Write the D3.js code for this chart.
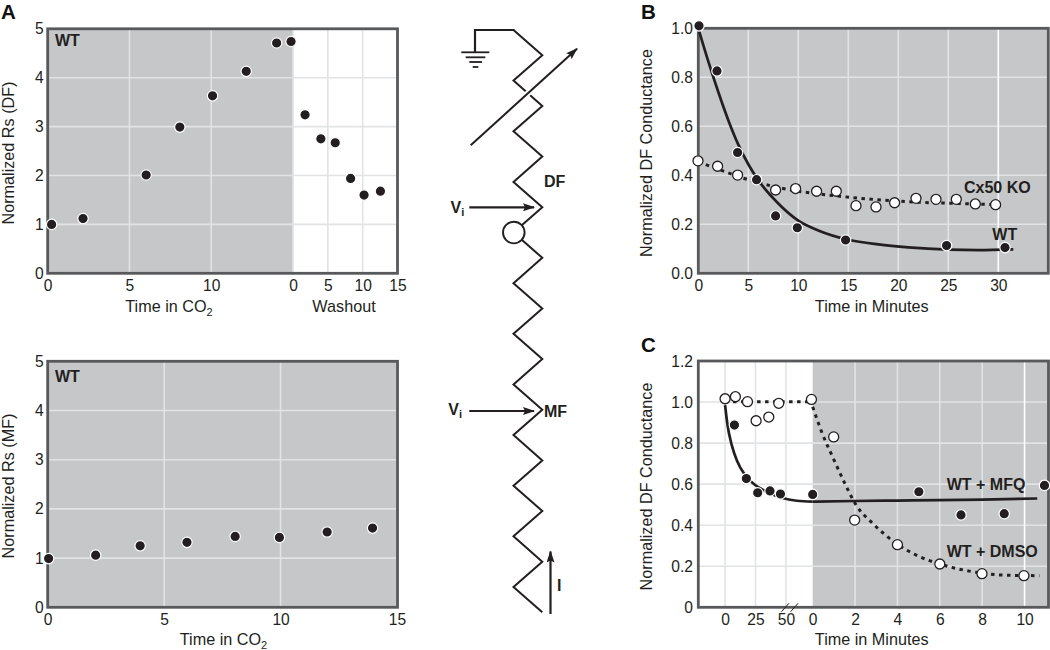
<!DOCTYPE html>
<meta charset="utf-8">
<script src="https://d3js.org/d3.v7.min.js"></script>

<style>

body {
    margin: 0;
    background: #fff;
}

svg {
    display: block;
    font-family: "Liberation Sans", Arial, sans-serif;
}

.tick text {
    font-family: "Liberation Sans", Arial, sans-serif;
    font-size: 15.6px;
    fill: #231f20;
}

.title {
    font-size: 16.2px;
    fill: #231f20;
}

.note {
    font-size: 16px;
    font-weight: bold;
    fill: #231f20;
}

.letter {
    font-size: 20.5px;
    font-weight: bold;
    fill: #111;
}

</style>
<body>
<script>

// panel A, top: time in CO2, then washout
var dfCo2T = [0.24, 2.16, 6.02, 8.08, 10.08, 12.14, 14.0, 14.88];
var dfCo2V = [1.0, 1.12, 2.01, 2.99, 3.63, 4.13, 4.71, 4.74];
var dfWashT = [1.73, 4.0, 6.06, 8.27, 10.2, 12.55];
var dfWashV = [3.24, 2.75, 2.67, 1.94, 1.6, 1.68];

// panel A, bottom
var mfT = [0.04, 2.06, 3.97, 5.98, 8.05, 9.95, 12, 13.95];
var mfV = [0.99, 1.06, 1.25, 1.32, 1.44, 1.42, 1.53, 1.61];

// panel B
var bWtT = [0.07, 1.87, 3.93, 5.83, 7.73, 9.9, 14.73, 24.83, 30.67];
var bWtV = [1.01, 0.826, 0.493, 0.382, 0.234, 0.186, 0.136, 0.113, 0.105];
var bWtFitT = [0, 1, 2, 3, 4, 5, 6, 8, 10, 12, 15, 18, 21, 25, 28, 31.5];
var bWtFitV = [1.0, 0.865, 0.74, 0.625, 0.525, 0.445, 0.38, 0.285, 0.215, 0.175, 0.137, 0.118, 0.106, 0.097, 0.095, 0.098];
var bKoT = [-0.03, 1.93, 3.93, 7.73, 9.73, 11.83, 13.8, 15.77, 17.77, 19.63, 21.77, 23.77, 25.8, 27.7, 29.73];
var bKoV = [0.459, 0.437, 0.401, 0.34, 0.346, 0.335, 0.335, 0.276, 0.271, 0.288, 0.306, 0.302, 0.302, 0.283, 0.28];
var bKoFitT = [0, 2, 4, 6, 8, 10, 14, 18, 22, 26, 30];
var bKoFitV = [0.455, 0.425, 0.395, 0.37, 0.35, 0.335, 0.315, 0.3, 0.29, 0.285, 0.28];

// panel C, before the break (left) and after it (right)
var cDmsoLeftT = [0, 8.5, 18.4, 25.5, 35.9, 44.1];
var cDmsoLeftV = [1.016, 1.026, 1.002, 0.909, 0.927, 0.994];
var cDmsoRightT = [-0.06, 0.99, 1.98, 4.0, 6.0, 7.99, 9.97];
var cDmsoRightV = [1.013, 0.83, 0.425, 0.305, 0.211, 0.164, 0.154];
var cMfqLeftT = [7.7, 17.5, 26.8, 36.9, 45.5];
var cMfqLeftV = [0.888, 0.627, 0.558, 0.567, 0.552];
var cMfqRightT = [0, 5.01, 7.0, 9.04, 10.94];
var cMfqRightV = [0.55, 0.563, 0.45, 0.456, 0.594];
var cMfqFitLeftT = [0, 2, 5.5, 9.6, 16.4, 24.7, 34.3, 48, 59, 72];
var cMfqFitLeftV = [0.985, 0.888, 0.79, 0.717, 0.645, 0.596, 0.563, 0.531, 0.519, 0.515];
var cMfqFitRightT = [2, 4, 6, 8, 10.6];
var cMfqFitRightV = [0.518, 0.52, 0.522, 0.525, 0.53];
var cDmsoFlatLeftT = [0, 72];
var cDmsoFlatLeftV = [1.002, 1.002];
var cDmsoFitT = [0, 0.42, 0.97, 1.44, 2.05, 2.83, 3.93, 4.87, 6, 7.1, 8.03, 8.97, 10.7];
var cDmsoFitV = [0.977, 0.855, 0.726, 0.62, 0.498, 0.409, 0.312, 0.255, 0.211, 0.182, 0.166, 0.157, 0.154];

// tick labels
var aYTicks = [0, 1, 2, 3, 4, 5];
var co2Ticks = [0, 5, 10];
var washTicks = [0, 5, 10, 15];
var mfTicks = [0, 5, 10, 15];
var bYTicks = [0, 0.2, 0.4, 0.6, 0.8, 1.0];
var bXTicks = [0, 5, 10, 15, 20, 25, 30];
var cYTicks = [0, 0.2, 0.4, 0.6, 0.8, 1.0, 1.2];
var cLeftTicks = [0, 25, 50];
var cRightTicks = [0, 2, 4, 6, 8, 10];

var GRAY = "#c6c7c9", FRAME = "#58595b", GRID = "#e2e3e4", INK = "#231f20";

var svg = d3.select("body").append("svg")
    .attr("width", 1050)
    .attr("height", 650);

var defs = svg.append("defs");
defs.append("marker")
    .attr("id", "head")
    .attr("markerUnits", "userSpaceOnUse")
    .attr("viewBox", "0 0 12 8")
    .attr("refX", 11)
    .attr("refY", 4)
    .attr("markerWidth", 12)
    .attr("markerHeight", 8)
    .attr("orient", "auto")
    .append("path")
    .attr("d", "M0,0L12,4L0,8L2,4Z")
    .attr("fill", INK);

// --- shared bits ---

function grid(g, xs, xTicks, y, yTicks, x0, x1) {
    yTicks.forEach(function(t) {
        g.append("line")
            .attr("x1", x0).attr("x2", x1)
            .attr("y1", y(t)).attr("y2", y(t))
            .attr("stroke", GRID).attr("stroke-width", 1.6);
    });
    xTicks.forEach(function(t) {
        g.append("line")
            .attr("x1", xs(t)).attr("x2", xs(t))
            .attr("y1", y.range()[1]).attr("y2", y.range()[0])
            .attr("stroke", GRID).attr("stroke-width", 1.6);
    });
}

function frame(g, x0, x1, y) {
    g.append("rect")
        .attr("x", x0).attr("y", y.range()[1])
        .attr("width", x1 - x0).attr("height", y.range()[0] - y.range()[1])
        .attr("fill", "none")
        .attr("stroke", FRAME)
        .attr("stroke-width", 2.8);
}

function bottomAxis(g, x, ticks, yPos) {
    var a = g.append("g")
        .attr("transform", "translate(0," + yPos + ")")
        .call(d3.axisBottom(x).tickValues(ticks).tickSize(0).tickPadding(7).tickFormat(d3.format("d")));
    a.select(".domain").remove();
}

function leftAxis(g, y, ticks, xPos, fmt) {
    var a = g.append("g")
        .attr("transform", "translate(" + xPos + ",0)")
        .call(d3.axisLeft(y).tickValues(ticks).tickSize(0).tickPadding(4).tickFormat(fmt));
    a.select(".domain").remove();
}

function xTitle(text, x, y, sub) {
    var t = svg.append("text")
        .attr("class", "title")
        .attr("x", x).attr("y", y)
        .attr("text-anchor", "middle")
        .text(text);
    if (sub) {
        t.append("tspan").attr("dy", 4).style("font-size", "11px").text(sub);
    }
}

function yTitle(text, x, y) {
    svg.append("text")
        .attr("class", "title")
        .attr("transform", "translate(" + x + "," + y + ") rotate(-90)")
        .attr("text-anchor", "middle")
        .text(text);
}

function note(text, x, y) {
    svg.append("text").attr("class", "note").attr("x", x).attr("y", y).text(text);
}

function letter(text, x, y) {
    svg.append("text").attr("class", "letter").attr("x", x).attr("y", y).text(text);
}

function dots(g, x, y, ts, vs, open) {
    g.append("g").selectAll("circle")
        .data(ts)
        .enter().append("circle")
        .attr("cx", function(d) { return x(d); })
        .attr("cy", function(d, i) { return y(vs[i]); })
        .attr("r", open ? 5 : 5.2)
        .attr("fill", open ? "#fff" : INK)
        .attr("stroke", open ? INK : "#fff")
        .attr("stroke-width", open ? 1.3 : 1.2);
}

function fit(g, x, y, ts, vs, dotted) {
    var line = d3.line()
        .x(function(d) { return x(d); })
        .y(function(d, i) { return y(vs[i]); })
        .curve(d3.curveMonotoneX);
    g.append("path")
        .attr("d", line(ts))
        .attr("fill", "none")
        .attr("stroke", INK)
        .attr("stroke-width", dotted ? 3 : 2.7)
        .attr("stroke-dasharray", dotted ? "3.5 4.5" : null);
}

var intFormat = d3.format("d");
var oneDecimal = d3.format(".1f");

// --- panel A, top ---

var yDf = d3.scaleLinear().domain([0, 5]).range([273.3, 28.8]);
var xCo2 = d3.scaleLinear().domain([0, 15]).range([47.7, 293]);
var xWash = d3.scaleLinear().domain([0, 15]).range([293, 397.5]);

var a1 = svg.append("g");
a1.append("rect")
    .attr("x", xCo2(0)).attr("y", yDf(5))
    .attr("width", xCo2(15) - xCo2(0)).attr("height", yDf(0) - yDf(5))
    .attr("fill", GRAY);
grid(a1, xCo2, co2Ticks, yDf, aYTicks.slice(1, 5), 47.7, 396);
grid(a1, xWash, washTicks.slice(0, 3), yDf, [], 0, 0);
frame(a1, 47.7, 397.5, yDf);
leftAxis(a1, yDf, aYTicks, 47.7, intFormat);
bottomAxis(a1, xCo2, co2Ticks, 273.3);
bottomAxis(a1, xWash, washTicks, 273.3);
dots(a1, xCo2, yDf, dfCo2T, dfCo2V);
dots(a1, xWash, yDf, dfWashT, dfWashV);
note("WT", 55, 46);
xTitle("Time in CO", 169, 311.7, "2");
xTitle("Washout", 344, 311.7);
yTitle("Normalized Rs (DF)", 13.5, 153);
letter("A", 1, 19);

// --- panel A, bottom ---

var yMf = d3.scaleLinear().domain([0, 5]).range([607.3, 361.3]);
var xMf = d3.scaleLinear().domain([0, 15]).range([47.7, 397]);

var a2 = svg.append("g");
a2.append("rect")
    .attr("x", 47.7).attr("y", yMf(5))
    .attr("width", xMf(15) - 47.7).attr("height", yMf(0) - yMf(5))
    .attr("fill", GRAY);
grid(a2, xMf, mfTicks.slice(1), yMf, aYTicks.slice(1, 5), 47.7, 396);
frame(a2, 47.7, 397.5, yMf);
leftAxis(a2, yMf, aYTicks, 47.7, intFormat);
bottomAxis(a2, xMf, mfTicks, 607.3);
dots(a2, xMf, yMf, mfT, mfV);
note("WT", 55, 382);
xTitle("Time in CO", 223.5, 645, "2");
yTitle("Normalized Rs (MF)", 13.5, 486);

// --- panel B ---

var xB = d3.scaleLinear().domain([0, 35]).range([698.3, 1048.3]);
var yB = d3.scaleLinear().domain([0, 1]).range([273.3, 28.3]);

var b = svg.append("g");
b.append("rect")
    .attr("x", xB(0)).attr("y", yB(1))
    .attr("width", xB(35) - xB(0)).attr("height", yB(0) - yB(1))
    .attr("fill", GRAY);
grid(b, xB, bXTicks.slice(1, 6), yB, bYTicks.slice(1, 5), xB(0), xB(35));
b.append("line")
    .attr("x1", xB(30)).attr("x2", xB(30))
    .attr("y1", yB(1)).attr("y2", yB(0))
    .attr("stroke", "#fff").attr("stroke-width", 1.6);
frame(b, xB(0), xB(35), yB);
leftAxis(b, yB, bYTicks, 697, oneDecimal);
bottomAxis(b, xB, bXTicks, 273.3);
fit(b, xB, yB, bKoFitT, bKoFitV, true);
fit(b, xB, yB, bWtFitT, bWtFitV, false);
dots(b, xB, yB, bKoT, bKoV, true);
dots(b, xB, yB, bWtT, bWtV);
note("Cx50 KO", 964, 193.3);
note("WT", 992.3, 240.3);
xTitle("Time in Minutes", 871.7, 311.7);
yTitle("Normalized DF Conductance", 651.7, 153);
letter("B", 641, 19);

// --- panel C ---

var xCl = d3.scaleLinear().domain([-22, 72]).range([698.3, 812.7]);
var xCr = d3.scaleLinear().domain([0, 11.13]).range([812.7, 1048.5]);
var yC = d3.scaleLinear().domain([0, 1.2]).range([607.3, 361]);

var c = svg.append("g");
c.append("rect")
    .attr("x", xCr(0)).attr("y", yC(1.2))
    .attr("width", xCr(11.13) - xCr(0)).attr("height", yC(0) - yC(1.2))
    .attr("fill", GRAY);
grid(c, xCl, cLeftTicks, yC, cYTicks.slice(1, 6), 698.3, 1047);
grid(c, xCr, cRightTicks.slice(1, 5), yC, [], 0, 0);
c.append("line")
    .attr("x1", xCr(10)).attr("x2", xCr(10))
    .attr("y1", yC(1.2)).attr("y2", yC(0))
    .attr("stroke", "#fff").attr("stroke-width", 1.6);
frame(c, 698.3, 1048.5, yC);

// break marks on the axis
[50, 57.5].forEach(function(t) {
    c.append("line")
        .attr("x1", xCl(t) - 4.5).attr("x2", xCl(t) + 3)
        .attr("y1", yC(0) + 4.5).attr("y2", yC(0) - 4)
        .attr("stroke", INK).attr("stroke-width", 1);
});

leftAxis(c, yC, cYTicks, 697, function(d) { return d === 0 ? "0" : oneDecimal(d); });
bottomAxis(c, xCl, cLeftTicks, 607.3);
bottomAxis(c, xCr, cRightTicks, 607.3);

fit(c, xCl, yC, cDmsoFlatLeftT, cDmsoFlatLeftV, true);
fit(c, xCr, yC, cDmsoFitT, cDmsoFitV, true);
fit(c, xCl, yC, cMfqFitLeftT, cMfqFitLeftV, false);
fit(c, xCr, yC, [0].concat(cMfqFitRightT), [cMfqFitLeftV[cMfqFitLeftV.length - 1]].concat(cMfqFitRightV), false);
dots(c, xCl, yC, cDmsoLeftT, cDmsoLeftV, true);
dots(c, xCr, yC, cDmsoRightT, cDmsoRightV, true);
dots(c, xCl, yC, cMfqLeftT, cMfqLeftV);
dots(c, xCr, yC, cMfqRightT, cMfqRightV);
note("WT + MFQ", 946.7, 490);
note("WT + DMSO", 946.7, 557);
xTitle("Time in Minutes", 871.7, 645);
yTitle("Normalized DF Conductance", 651.7, 486.5);
letter("C", 641, 352);

// --- cable diagram in the middle ---

// zigzag corners: index -1 is the top end, 22 the bottom one
var zigIndex = d3.range(-1, 23);
var zigX = d3.scaleOrdinal().domain([0, 1]).range([542.3, 513.5]);
var zigY = d3.scaleLinear().domain([0, 22]).range([55.3, 612.3]);

var cable = svg.append("g");

cable.append("path")
    .attr("d", d3.line()
        .x(function(d) { return zigX(Math.abs(d % 2)); })
        .y(function(d) { return zigY(d); })(zigIndex))
    .attr("fill", "none")
    .attr("stroke", INK)
    .attr("stroke-width", 2)
    .attr("stroke-linejoin", "miter");

// soma
cable.append("circle")
    .attr("cx", 513.8).attr("cy", zigY(7))
    .attr("r", 10.8)
    .attr("fill", "#fff").attr("stroke", INK).attr("stroke-width", 1.9);

// ground
cable.append("path")
    .attr("d", "M475,52V30H514.3")
    .attr("fill", "none").attr("stroke", INK).attr("stroke-width", 2.2);
[[461.3, 489.3, 52.3], [465.7, 485.3, 57.3], [469.3, 482, 62], [472.7, 478.3, 67]].forEach(function(r) {
    cable.append("line")
        .attr("x1", r[0]).attr("x2", r[1]).attr("y1", r[2]).attr("y2", r[2])
        .attr("stroke", INK).attr("stroke-width", 1.8);
});

// variable resistor arrow, the white band breaks the zigzag where it crosses
cable.append("line")
    .attr("x1", 515).attr("y1", 105).attr("x2", 543).attr("y2", 79.6)
    .attr("stroke", "#fff").attr("stroke-width", 6);
cable.append("line")
    .attr("x1", 470.7).attr("y1", 145.3).attr("x2", 577).attr("y2", 48.7)
    .attr("stroke", INK).attr("stroke-width", 2)
    .attr("marker-end", "url(#head)");

// Vi and I arrows
[207.3, 411].forEach(function(y) {
    cable.append("line")
        .attr("x1", 469.3).attr("y1", y).attr("x2", 534).attr("y2", y)
        .attr("stroke", INK).attr("stroke-width", 2.2)
        .attr("marker-end", "url(#head)");
});
cable.append("line")
    .attr("x1", 550.5).attr("y1", 614).attr("x2", 550.5).attr("y2", 551.5)
    .attr("stroke", INK).attr("stroke-width", 2.2)
    .attr("marker-end", "url(#head)");

function vLabel(x, y) {
    var t = svg.append("text").attr("class", "note").attr("x", x).attr("y", y).text("V");
    t.append("tspan").attr("dy", 3).style("font-size", "11px").text("i");
}
vLabel(450.5, 212.5);
vLabel(448.3, 414.5);
note("DF", 544, 186.5);
note("MF", 544, 416.5);
note("I", 557, 590.5);

</script>
</body>
